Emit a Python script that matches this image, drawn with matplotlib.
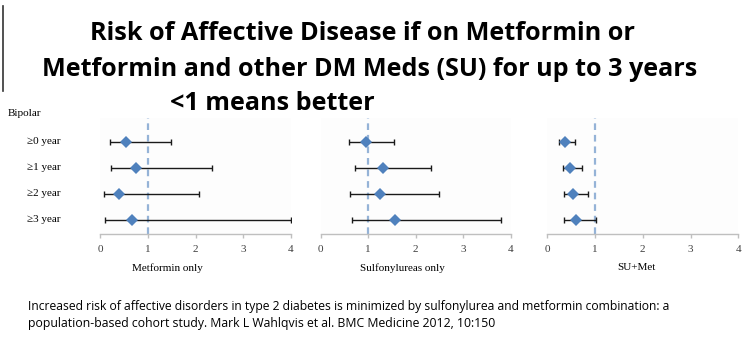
import matplotlib
matplotlib.use("Agg")
import matplotlib.pyplot as plt
from matplotlib import font_manager
from matplotlib.lines import Line2D

W, H, DPI = 748, 359, 100

rows = ["≥0 year", "≥1 year", "≥2 year", "≥3 year"]
panels = ["Metformin only", "Sulfonylureas only", "SU+Met"]

met_est = [0.55, 0.75, 0.40, 0.67]
met_lo = [0.21, 0.23, 0.08, 0.11]
met_hi = [1.48, 2.35, 2.07, 3.99]

su_est = [0.96, 1.32, 1.25, 1.56]
su_lo = [0.60, 0.73, 0.62, 0.65]
su_hi = [1.54, 2.33, 2.48, 3.80]

comb_est = [0.38, 0.48, 0.53, 0.61]
comb_lo = [0.25, 0.32, 0.34, 0.34]
comb_hi = [0.57, 0.73, 0.86, 1.03]

xticks = [0, 1, 2, 3, 4]
title_lines = ["Risk of Affective Disease if on Metformin or",
               "Metformin and other DM Meds (SU) for up to 3 years",
               "<1 means better"]
citation = ["Increased risk of affective disorders in type 2 diabetes is minimized by sulfonylurea and metformin combination: a",
            "population-based cohort study. Mark L Wahlqvis et al. BMC Medicine 2012, 10:150"]

series = [(met_est, met_lo, met_hi), (su_est, su_lo, su_hi), (comb_est, comb_lo, comb_hi)]

available = {f.name for f in font_manager.fontManager.ttflist}
sans = "DejaVu Sans"
for cand in ["DejaVu Sans Condensed", "Liberation Sans Narrow", "Open Sans"]:
    if cand in available:
        sans = cand
        break
serif = "Liberation Serif" if "Liberation Serif" in available else "DejaVu Serif"

fig = plt.figure(figsize=(W / DPI, H / DPI), dpi=DPI)
fig.patch.set_facecolor("white")

def fx(px):
    return px / W

def fy(py):
    return 1 - py / H

# panel pixel extents (x0 -> value 0, x1 -> value 4)
pan_x = [(100, 291), (320.7, 510.7), (547.3, 738.3)]
top_px, bot_px = 118, 234
row0, row_step = 141.7, 26.1
ylo = (bot_px - row0) / row_step
yhi = (top_px - row0) / row_step
label_cx = [167, 402, 636]

for i, ((x0, x1), (est, lo, hi)) in enumerate(zip(pan_x, series)):
    ax = fig.add_axes([fx(x0), fy(bot_px), fx(x1 - x0), (bot_px - top_px) / H])
    ax.set_facecolor("#fdfdfd")
    ypos = list(range(len(rows)))
    xerr = [[e - l for e, l in zip(est, lo)], [h - e for e, h in zip(est, hi)]]
    ax.axvline(1, color="#95b3d7", lw=1.6, dashes=(3, 2.2), zorder=1)
    ax.errorbar(est, ypos, xerr=xerr, fmt="none", ecolor="#1a1a1a", elinewidth=1.0,
                capsize=2.5, capthick=1.0, zorder=2)
    ax.plot(est, ypos, "D", color="#4f81bd", markersize=6.2, markeredgewidth=0, zorder=3)
    ax.set_xlim(0, 4)
    ax.set_ylim(ylo, yhi)
    ax.set_xticks(xticks)
    ax.set_xticklabels([str(t) for t in xticks], fontfamily=serif, fontsize=8, color="#404040")
    ax.set_yticks([])
    for s in ["top", "right", "left"]:
        ax.spines[s].set_visible(False)
    ax.spines["bottom"].set_color("#bfbfbf")
    ax.spines["bottom"].set_linewidth(1.0)
    ax.tick_params(axis="x", length=3, width=1, color="#bfbfbf", pad=5)
    fig.text(fx(label_cx[i]), fy(268), panels[i], ha="center", va="center",
             fontfamily=serif, fontsize=8, color="black")

# row labels
fig.text(fx(8), fy(116), "Bipolar", ha="left", va="baseline", fontfamily=serif, fontsize=8)
for j, r in enumerate(rows):
    fig.text(fx(27), fy(row0 + j * row_step), r, ha="left", va="center",
             fontfamily=serif, fontsize=8)

# fitted text helper
fig.canvas.draw()
renderer = fig.canvas.get_renderer()

def fitted(x0, x1, ybase, s, size, weight="normal"):
    t = fig.text(fx(x0), fy(ybase), s, ha="left", va="baseline", fontfamily=sans,
                 fontsize=size, fontweight=weight, color="black")
    w = t.get_window_extent(renderer).width
    t.set_fontsize(size * (x1 - x0) / w)
    return t

fitted(90, 637, 40, title_lines[0], 17, "bold")
fitted(42, 698, 76, title_lines[1], 17, "bold")
fitted(170, 375, 110, title_lines[2], 17, "bold")

fitted(28, 680, 310, citation[0], 8)
fitted(28, 498, 327, citation[1], 8)

# slide edge line
fig.add_artist(Line2D([fx(3), fx(3)], [fy(6), fy(91)], color="#333333", lw=1.2))

fig.savefig("out.png", dpi=DPI)
